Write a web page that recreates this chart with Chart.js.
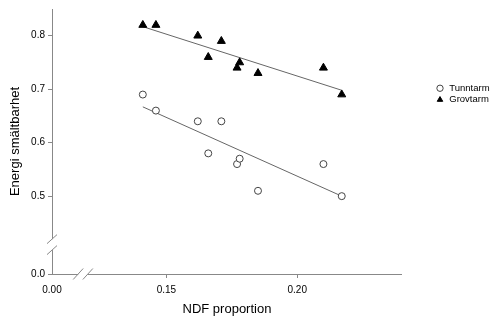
<!DOCTYPE html>
<html><head><meta charset="utf-8">
<script src="https://cdn.jsdelivr.net/npm/chart.js@4/dist/chart.umd.min.js"></script>
<style>html,body{margin:0;padding:0;background:#fff;} #wrap{width:499px;height:320px;position:relative;}</style>
</head><body><div id="wrap"><canvas id="c"></canvas></div>
<script>
const seriesNames = ['Tunntarm', 'Grovtarm'];
const ndfTunntarm = [0.141, 0.146, 0.162, 0.166, 0.171, 0.177, 0.178, 0.185, 0.210, 0.217];
const energiTunntarm = [0.69, 0.66, 0.64, 0.58, 0.64, 0.56, 0.57, 0.51, 0.56, 0.50];
const ndfGrovtarm = [0.141, 0.146, 0.162, 0.166, 0.171, 0.177, 0.178, 0.185, 0.210, 0.217];
const energiGrovtarm = [0.82, 0.82, 0.80, 0.76, 0.79, 0.74, 0.75, 0.73, 0.74, 0.69];
const fitTunntarmX = [0.141, 0.217];
const fitTunntarmY = [0.667, 0.500];
const fitGrovtarmX = [0.141, 0.217];
const fitGrovtarmY = [0.817, 0.698];
// broken axes: the first tick stands for the origin (0.00 / 0.0)
const xRange = [0.1063, 0.24];
const yRange = [0.3544, 0.85];
const xTickValues = [0.1063, 0.15, 0.20];
const xTickLabels = ['0.00', '0.15', '0.20'];
const yTickValues = [0.3544, 0.5, 0.6, 0.7, 0.8];
const yTickLabels = ['0.0', '0.5', '0.6', '0.7', '0.8'];
const xBreak = [0.1163, 0.1200];
const yBreak = [0.3991, 0.4196];

Chart.defaults.font.family = '"Liberation Sans", Arial, sans-serif';
Chart.defaults.color = '#000';

const pts = (xs, ys) => xs.map((v, i) => ({x: v, y: ys[i]}));
const AXIS = '#888';

const legendPlacer = {
  id: 'legendPlacer',
  afterLayout(chart) {
    const lg = chart.legend; if (!lg) return;
    const w = lg.width, h = lg.height;
    lg.left = 433.5; lg.right = lg.left + w;
    lg.top = 81.5; lg.bottom = lg.top + h;
  }
};
const axisBreaks = {
  id: 'axisBreaks',
  afterDraw(chart) {
    const {ctx, scales: {x, y}, chartArea: a} = chart;
    ctx.save();
    const y1 = y.getPixelForValue(yBreak[0]), y2 = y.getPixelForValue(yBreak[1]);
    const x1 = x.getPixelForValue(xBreak[0]), x2 = x.getPixelForValue(xBreak[1]);
    ctx.fillStyle = '#fff';
    ctx.fillRect(a.left - 2, y2, 4, y1 - y2);
    ctx.fillRect(x1, a.bottom - 2, x2 - x1, 4);
    ctx.strokeStyle = AXIS; ctx.lineWidth = 1;
    ctx.beginPath();
    [y1, y2].forEach(py => { ctx.moveTo(a.left - 5, py + 4.5); ctx.lineTo(a.left + 5, py - 4.5); });
    [x1, x2].forEach(px => { ctx.moveTo(px - 5, a.bottom + 5.5); ctx.lineTo(px + 5, a.bottom - 5.5); });
    ctx.stroke();
    ctx.restore();
  }
};

new Chart(document.getElementById('c'), {
  type: 'scatter',
  data: {
    datasets: [
      {label: seriesNames[0], data: pts(ndfTunntarm, energiTunntarm), pointStyle: 'circle', pointRadius: 3.5,
       backgroundColor: '#fff', borderColor: '#444', borderWidth: 1, order: 0},
      {label: seriesNames[1], data: pts(ndfGrovtarm, energiGrovtarm), pointStyle: 'triangle', pointRadius: 4.6,
       backgroundColor: '#000', borderColor: '#000', borderWidth: 1, order: 0},
      {label: 'fit1', data: pts(fitTunntarmX, fitTunntarmY), showLine: true, pointRadius: 0,
       borderColor: '#666', borderWidth: 1, order: 1},
      {label: 'fit2', data: pts(fitGrovtarmX, fitGrovtarmY), showLine: true, pointRadius: 0,
       borderColor: '#666', borderWidth: 1, order: 1}
    ]
  },
  options: {
    responsive: true, maintainAspectRatio: false, animation: false,
    layout: {padding: {top: 8, right: 31, left: 0, bottom: 0}},
    plugins: {
      tooltip: {enabled: false},
      legend: {
        position: 'right', align: 'start',
        labels: {usePointStyle: true, boxWidth: 9, boxHeight: 4.5, padding: 2,
                 font: {size: 9.5}, color: '#000',
                 filter: item => item.datasetIndex < 2}
      }
    },
    scales: {
      x: {
        type: 'linear', min: xRange[0], max: xRange[1],
        afterBuildTicks: s => { s.ticks = xTickValues.map(v => ({value: v})); },
        afterFit: s => { s.height = 46; },
        ticks: {autoSkip: false, maxRotation: 0, padding: 6, font: {size: 10},
                callback: (v, i) => xTickLabels[i]},
        grid: {drawOnChartArea: false, drawTicks: true, tickLength: 4,
               color: c => (c.tick && c.tick.value === xRange[0]) ? 'rgba(0,0,0,0)' : AXIS},
        border: {display: true, color: AXIS, width: 1},
        title: {display: true, text: 'NDF proportion', font: {size: 13}, padding: {top: 4, bottom: 3}}
      },
      y: {
        type: 'linear', min: yRange[0], max: yRange[1],
        afterBuildTicks: s => { s.ticks = yTickValues.map(v => ({value: v})); },
        afterFit: s => { s.width = 52; },
        ticks: {autoSkip: false, padding: 3, font: {size: 10},
                callback: (v, i) => yTickLabels[i]},
        grid: {drawOnChartArea: false, drawTicks: true, tickLength: 4, color: AXIS},
        border: {display: true, color: AXIS, width: 1},
        title: {display: true, text: 'Energi smältbarhet', font: {size: 13}, padding: {top: 8, bottom: 4}}
      }
    }
  },
  plugins: [legendPlacer, axisBreaks]
});
</script>
</body></html>
